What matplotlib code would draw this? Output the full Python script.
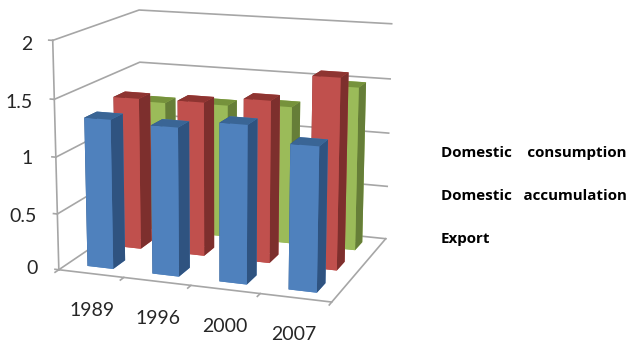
import matplotlib
matplotlib.use("Agg")
import matplotlib.pyplot as plt

years = ["1989", "1996", "2000", "2007"]
levels = [0, 0.5, 1, 1.5, 2]
export = [1.32, 1.3, 1.37, 1.24]
accumulation = [1.38, 1.39, 1.45, 1.69]
consumption = [1.22, 1.24, 1.27, 1.49]
legend_names = ["Domestic    consumption", "Domestic   accumulation", "Export"]

W, H = 629, 343

fig = plt.figure(figsize=(6.29, 3.43), dpi=100)
# camera and box fitted against the picture
L, left, top = 404.4, 20.3, -52.0
ax = fig.add_axes([left/W, 1 - (top + L)/H, L/W, L/H], projection="3d", computed_zorder=False)
ax.set_xlim(0, 4, view_margin=0)
ax.set_ylim(0, 3, view_margin=0)
ax.set_zlim(0, 2, view_margin=0)
ax.view_init(13.551, -70.455, -0.083)
ax.set_proj_type("persp", focal_length=0.678)
ax.set_box_aspect((1.219, 0.920, 1))
ax.set_axis_off()

gc = "#a6a6a6"
for z in levels:
    ax.plot([0, 0, 4], [0, 3, 3], [z, z, z], color=gc, lw=1.2, zorder=1)
    ax.plot([-0.06, 0], [0, 0], [z, z], color=gc, lw=1.2, zorder=1)
ax.plot([0, 0], [0, 0], [0, 2], color=gc, lw=1.2, zorder=1)
ax.plot([0, 4, 4], [0, 0, 3], [0, 0, 0], color=gc, lw=1.2, zorder=1)
for i in range(5):
    ax.plot([i, i], [0, -0.12], [0, 0], color=gc, lw=1.2, zorder=1)

series = [(consumption, 2.5, "#9bbb59", "#76923c", "#667e38", 2),
          (accumulation, 1.5, "#c0504d", "#8e3431", "#7d2f2d", 3),
          (export, 0.5, "#4f81bd", "#3a6595", "#2f5380", 4)]
w = 0.4
d = 0.42
for vals, yc, front, topc, side, zo in series:
    for i, v in enumerate(vals):
        ax.bar3d(i + 0.5 - w/2 + 0.01, yc - d/2, 0, w, d, v,
                 color=[front, topc, front, front, side, side], shade=False, zorder=zo, linewidth=0)

# axis labels sit outside the box, so they go on in picture pixels
tc = "#262626"
for z, px, py in zip(levels, [38, 37, 33, 33, 32], [269, 217, 159, 102, 45]):
    fig.text(px/W, 1 - py/H, str(z), ha="right", va="center", fontsize=14, family="Lato", color=tc)
for y, px, py in zip(years, [92, 158, 225, 294], [310.5, 318.5, 326.5, 335]):
    fig.text(px/W, 1 - py/H, y, ha="center", va="center", fontsize=14, family="Lato", color=tc)

for t, py in zip(legend_names, [153.5, 196, 239]):
    fig.text(441/W, 1 - py/H, t, fontsize=10.9, fontweight="bold", family="Open Sans", va="center", color="black")

fig.savefig("out.png", dpi=100)
